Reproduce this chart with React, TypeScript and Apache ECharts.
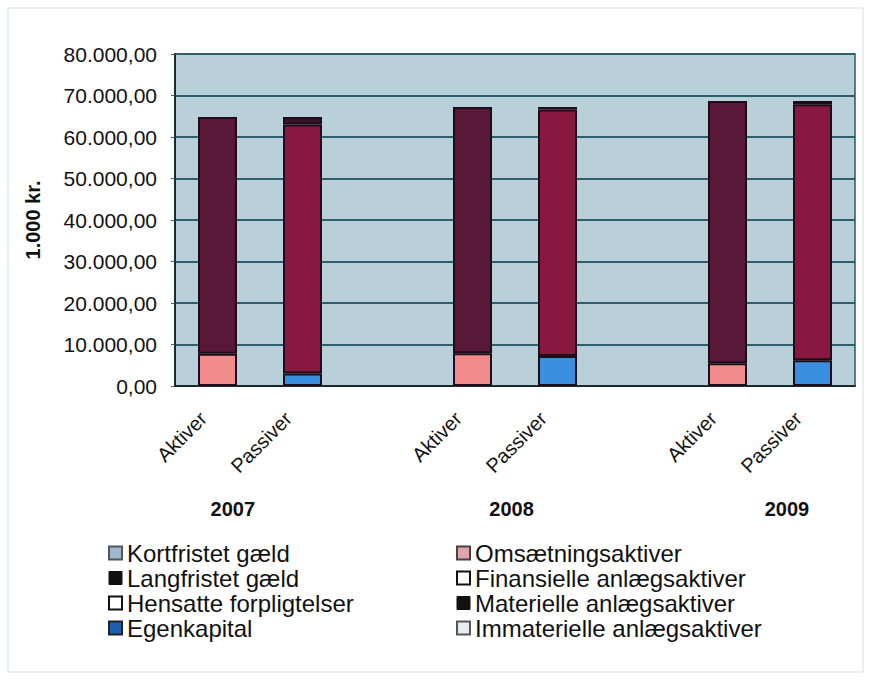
import React, { useEffect, useRef } from "react";
import * as echarts from "echarts";

// ---- data ----
const years = ["2007", "2008", "2009"];
const sideNames = ["Aktiver", "Passiver"];
const omsaetningsaktiver = [7800, 7900, 5500];
const materielleAnlaegsaktiver = [57000, 59300, 63200];
const finansielleAnlaegsaktiver = [0, 0, 0];
const immaterielleAnlaegsaktiver = [0, 0, 0];
const egenkapital = [3000, 7200, 6200];
const langfristetGaeld = [60000, 59400, 61700];
const kortfristetGaeld = [1800, 600, 800];
const hensatteForpligtelser = [0, 0, 0];
const yMin = 0;
const yMax = 80000;
const yStep = 10000;

// layout constants (label placement under the groups, in category units)
const YEAR_LABEL_X = [0.18, 3.46, 6.7];

const FONT = "'Liberation Sans', Arial, sans-serif";

// categories: Aktiver, Passiver, gap, ...
const categories: string[] = [];
years.forEach((y, i) => {
  sideNames.forEach((s) => categories.push(`${s}|${y}`));
  if (i < years.length - 1) categories.push(`|gap${i}`);
});

function place(side: string, values: number[]) {
  return categories.map((c) => {
    const [s, y] = c.split("|");
    if (s !== side) return "-";
    const idx = years.indexOf(y);
    const v = values[idx];
    return v ? v : "-";
  });
}

function fmtDK(v: number) {
  const s = Math.round(v).toString().replace(/\B(?=(\d{3})+(?!\d))/g, ".");
  return s + ",00";
}

export default function App() {
  const ref = useRef<HTMLDivElement>(null);

  useEffect(() => {
    if (!ref.current) return;
    const chart = echarts.init(ref.current, undefined, { renderer: "svg" });

    const border = { borderColor: "#1e0d18", borderWidth: 2 };
    const mk = (name: string, side: string, values: number[], color: string) => ({
      name,
      type: "bar",
      stack: "total",
      barWidth: 39,
      xAxisIndex: 0,
      data: place(side, values),
      itemStyle: { color, ...border },
    });

    const series = [
      mk("Egenkapital", "Passiver", egenkapital, "#3b8fe0"),
      mk("Omsætningsaktiver", "Aktiver", omsaetningsaktiver, "#f08c8c"),
      mk("Hensatte forpligtelser", "Passiver", hensatteForpligtelser, "#ffffff"),
      mk("Finansielle anlægsaktiver", "Aktiver", finansielleAnlaegsaktiver, "#ffffff"),
      mk("Immaterielle anlægsaktiver", "Aktiver", immaterielleAnlaegsaktiver, "#e6ebef"),
      mk("Langfristet gæld", "Passiver", langfristetGaeld, "#88183f"),
      mk("Materielle anlægsaktiver", "Aktiver", materielleAnlaegsaktiver, "#5a1838"),
      mk("Kortfristet gæld", "Passiver", kortfristetGaeld, "#3a1226"),
    ];

    const legendText = {
      fontFamily: FONT,
      fontSize: 24,
      lineHeight: 24,
      color: "#111",
    };
    const legendCommon = {
      orient: "vertical",
      top: 536,
      padding: 5,
      itemWidth: 13,
      itemHeight: 13,
      itemGap: 1,
      icon: "rect",
      selectedMode: false,
      textStyle: legendText,
    };

    chart.setOption({
      animation: false,
      backgroundColor: "#ffffff",
      graphic: [
        {
          type: "rect",
          shape: { x: 8, y: 8, width: 855, height: 664 },
          style: { fill: "none", stroke: "#d3dee3", lineWidth: 1 },
          silent: true,
        },
      ],
      grid: {
        left: 175,
        top: 54,
        width: 680,
        height: 332,
        show: true,
        backgroundColor: "#b9d0da",
        borderColor: "#2a5a68",
        borderWidth: 1.5,
      },
      legend: [
        {
          ...legendCommon,
          left: 103,
          data: [
            { name: "Kortfristet gæld", itemStyle: { color: "#9fb7d0", borderColor: "#555", borderWidth: 2 } },
            { name: "Langfristet gæld", itemStyle: { color: "#111", borderColor: "#111", borderWidth: 1 } },
            { name: "Hensatte forpligtelser", itemStyle: { color: "#ffffff", borderColor: "#111", borderWidth: 2 } },
            { name: "Egenkapital", itemStyle: { color: "#1d5fae", borderColor: "#222", borderWidth: 2 } },
          ],
        },
        {
          ...legendCommon,
          left: 451,
          data: [
            { name: "Omsætningsaktiver", itemStyle: { color: "#e3a3ab", borderColor: "#444", borderWidth: 2 } },
            { name: "Finansielle anlægsaktiver", itemStyle: { color: "#ffffff", borderColor: "#111", borderWidth: 2 } },
            { name: "Materielle anlægsaktiver", itemStyle: { color: "#111", borderColor: "#111", borderWidth: 1 } },
            { name: "Immaterielle anlægsaktiver", itemStyle: { color: "#e6ebef", borderColor: "#555", borderWidth: 2 } },
          ],
        },
      ],
      xAxis: [
        {
          type: "category",
          data: categories,
          position: "bottom",
          axisLine: { show: true, lineStyle: { color: "#1a2a30", width: 2 } },
          axisTick: { show: false },
          splitLine: { show: false },
          axisLabel: {
            interval: 0,
            rotate: 45,
            margin: 15,
            padding: [0, 20, 0, 0],
            fontFamily: FONT,
            fontSize: 20,
            color: "#111",
            formatter: (v: string) => v.split("|")[0],
          },
        },
        {
          type: "value",
          min: -0.5,
          max: categories.length - 0.5,
          position: "bottom",
          axisLine: { show: false },
          axisTick: { show: false },
          splitLine: { show: false },
          axisLabel: {
            customValues: YEAR_LABEL_X,
            margin: 113,
            fontFamily: FONT,
            fontSize: 20,
            fontWeight: "bold",
            color: "#111",
            formatter: (v: number) => {
              let best = 0;
              YEAR_LABEL_X.forEach((p, i) => {
                if (Math.abs(p - v) < Math.abs(YEAR_LABEL_X[best] - v)) best = i;
              });
              return years[best];
            },
          },
        },
      ],
      yAxis: {
        type: "value",
        min: yMin,
        max: yMax,
        interval: yStep,
        name: "1.000 kr.",
        nameLocation: "middle",
        nameGap: 132,
        nameTextStyle: {
          fontFamily: FONT,
          fontSize: 20,
          fontWeight: "bold",
          color: "#111",
        },
        axisLine: { show: true, onZero: false, lineStyle: { color: "#1a2a30", width: 2 } },
        axisTick: { show: true, length: 4, lineStyle: { color: "#556", width: 1 } },
        splitLine: { show: true, lineStyle: { color: "#2c5f6d", width: 2 } },
        axisLabel: {
          margin: 18,
          fontFamily: FONT,
          fontSize: 21,
          color: "#111",
          formatter: (v: number) => fmtDK(v),
        },
      },
      series,
    });

    return () => chart.dispose();
  }, []);

  return (
    <div
      ref={ref}
      style={{ position: "fixed", left: 0, top: 0, width: 872, height: 682 }}
    />
  );
}
